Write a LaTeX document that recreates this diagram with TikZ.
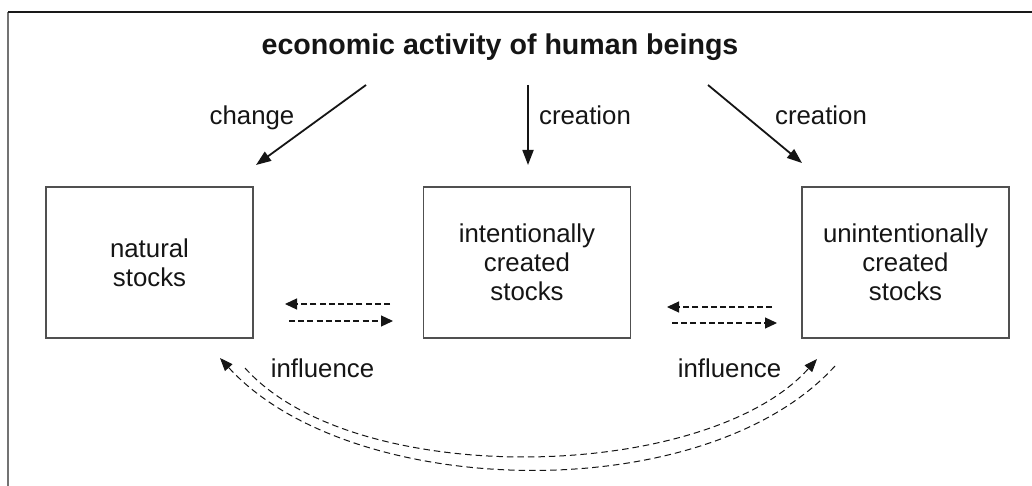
\documentclass[tikz,border=0pt]{standalone}
\usepackage{fontspec}
\setmainfont{Liberation Sans}
\usetikzlibrary{arrows.meta}
\definecolor{txt}{HTML}{151515}
\definecolor{boxline}{HTML}{505050}
\begin{document}
\begin{tikzpicture}[x=1pt,y=-1pt,
  box/.style={draw=boxline,line width=1.1pt,minimum width=207pt,minimum height=151pt,inner sep=0pt,align=center,text=txt,font=\fontsize{25.8}{29}\selectfont},
  lbl/.style={inner sep=0pt,anchor=base,text=txt,font=\fontsize{25.8}{29}\selectfont},
  titlestyle/.style={inner sep=0pt,anchor=base,text=txt,font=\fontsize{28.6}{32}\selectfont\bfseries},
  solidarrow/.style={draw=txt,line width=1.8pt,-{Triangle[length=15pt,width=11pt]}},
  dasharrow/.style={draw=txt,line width=1.2pt,dash pattern=on 6pt off 3.2pt,-{Triangle[length=12pt,width=11pt]}},
  arcarrow/.style={draw=txt,line width=1pt,dash pattern=on 6.5pt off 4pt,-{Triangle[length=13pt,width=10pt]}}
]
\useasboundingbox (0,0) rectangle (1032,486);
\fill[white] (0,0) rectangle (1032,486);
% frame
\draw[gray!90!black,line width=1.2pt] (8,486) -- (8,12);
\draw[black!90,line width=1.2pt] (8,12) -- (1032,12);
% title
\node[titlestyle] (title) at (500,55) {economic activity of human beings};
% boxes
\node[box] (nat) at (149.5,262.5) {natural\\stocks};
\node[box] (int) at (527,262.5) {intentionally\\created\\stocks};
\node[box] (unint) at (905.5,262.5) {unintentionally\\created\\stocks};
% labels
\node[lbl] (lchange) at (252,125) {change};
\node[lbl] (lcre1) at (585,125) {creation};
\node[lbl] (lcre2) at (821,125) {creation};
\node[lbl] (linf1) at (322.5,377) {influence};
\node[lbl] (linf2) at (729.5,377) {influence};
% solid arrows
\coordinate (a1s) at (366,85); \coordinate (a1e) at (256,165);
\coordinate (a2s) at (528,85); \coordinate (a2e) at (528,165);
\coordinate (a3s) at (708,85); \coordinate (a3e) at (802,163);
\draw[solidarrow] (a1s) -- (a1e);
\draw[solidarrow] (a2s) -- (a2e);
\draw[solidarrow] (a3s) -- (a3e);
% straight dashed arrows
\coordinate (d1a) at (390,304); \coordinate (d1b) at (285,304);
\coordinate (d2a) at (289,321); \coordinate (d2b) at (393,321);
\coordinate (d3a) at (772,307); \coordinate (d3b) at (667,307);
\coordinate (d4a) at (672,323); \coordinate (d4b) at (777,323);
\draw[dasharrow] (d1a) -- (d1b);
\draw[dasharrow] (d2a) -- (d2b);
\draw[dasharrow] (d3a) -- (d3b);
\draw[dasharrow] (d4a) -- (d4b);
% curved dashed arrows
\coordinate (r1s) at (835,366); \coordinate (r1e) at (220,358);
\coordinate (r2s) at (245,368); \coordinate (r2e) at (817,359);
\draw[arcarrow] (r1s) .. controls (705,509) and (350,501) .. (r1e);
\draw[arcarrow] (r2s) .. controls (355,491) and (707,482) .. (r2e);
\end{tikzpicture}
\end{document}
